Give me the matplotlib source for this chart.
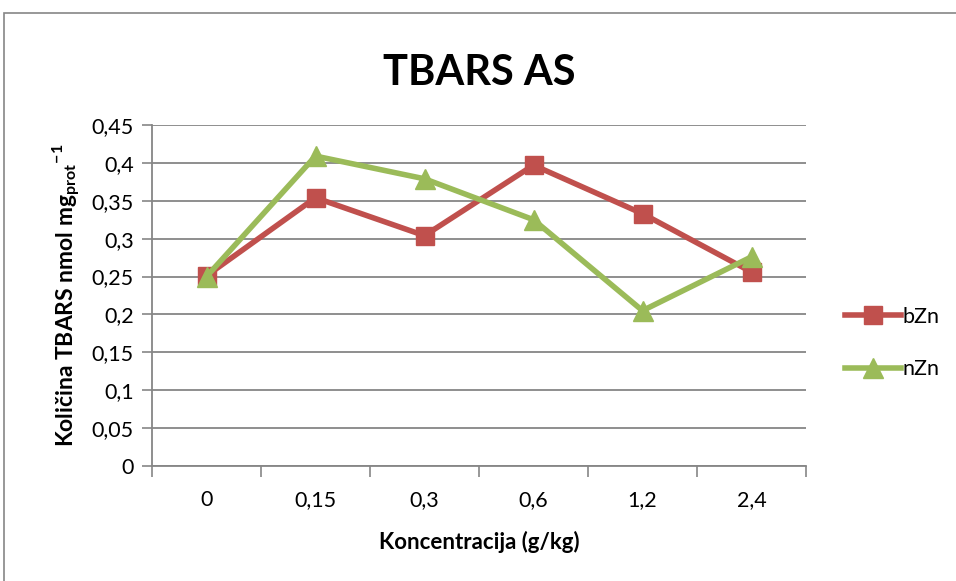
import matplotlib.pyplot as plt
import matplotlib.patches as patches

plt.rcParams['font.family'] = ['Lato', 'DejaVu Sans']
plt.rcParams['mathtext.fontset'] = 'custom'
plt.rcParams['mathtext.rm'] = 'Lato'
plt.rcParams['mathtext.bf'] = 'Lato:bold'

categories = ['0', '0,15', '0,3', '0,6', '1,2', '2,4']
bzn = [0.251, 0.354, 0.304, 0.397, 0.333, 0.256]
nzn = [0.250, 0.409, 0.379, 0.325, 0.205, 0.276]
y_ticks = [0, 0.05, 0.1, 0.15, 0.2, 0.25, 0.3, 0.35, 0.4, 0.45]
y_labels = ['0', '0,05', '0,1', '0,15', '0,2', '0,25', '0,3', '0,35', '0,4', '0,45']

grey = '#868686'
fig = plt.figure(figsize=(9.56, 5.81), dpi=100)
fig.patches.append(patches.Rectangle((4 / 956, -0.1), 1.1, (581 - 13) / 581 + 0.1,
                                     transform=fig.transFigure, fill=False,
                                     edgecolor=grey, linewidth=1.2))
ax = fig.add_axes([152 / 956, 1 - 466 / 581, (806 - 152) / 956, (466 - 125) / 581])

x = range(len(categories))
ax.plot(x, bzn, color='#C0504D', linewidth=4, marker='s', markersize=13, label='bZn')
ax.plot(x, nzn, color='#9BBB59', linewidth=4, marker='^', markersize=14, label='nZn')

ax.set_xlim(-0.5, len(categories) - 0.5)
ax.set_ylim(0, 0.45)
ax.set_yticks(y_ticks)
ax.set_yticklabels(y_labels)
ax.set_xticks(list(x))
ax.set_xticklabels(categories)
ax.set_xticks([i - 0.5 for i in range(len(categories) + 1)], minor=True)
ax.tick_params(axis='x', which='major', length=0, pad=17, labelsize=15.5)
ax.tick_params(axis='x', which='minor', length=8, color=grey, width=1.2)
ax.tick_params(axis='y', length=7, color=grey, width=1.2, labelsize=15.5, pad=6)
ax.grid(axis='y', color=grey, linewidth=1.3)
ax.set_axisbelow(True)
for s in ['top', 'right']:
    ax.spines[s].set_visible(False)
for s in ['left', 'bottom']:
    ax.spines[s].set_color(grey)
    ax.spines[s].set_linewidth(1.3)

ax.set_title('TBARS AS', fontsize=30, fontweight='bold', pad=29)
ax.set_xlabel('Koncentracija (g/kg)', fontsize=16, fontweight='bold', labelpad=15)
ax.set_ylabel(r'Količina TBARS nmol mg$_{\mathbf{prot}}$$^{\mathbf{-1}}$', fontsize=16.5,
              fontweight='bold', labelpad=6)

ax.legend(loc='center left', bbox_to_anchor=(836 / 956, 1 - 343 / 581),
          bbox_transform=fig.transFigure, frameon=False, fontsize=15.5,
          handlelength=2.6, labelspacing=1.5, handletextpad=0.1, borderaxespad=0)

fig.savefig('out.png', dpi=100)
